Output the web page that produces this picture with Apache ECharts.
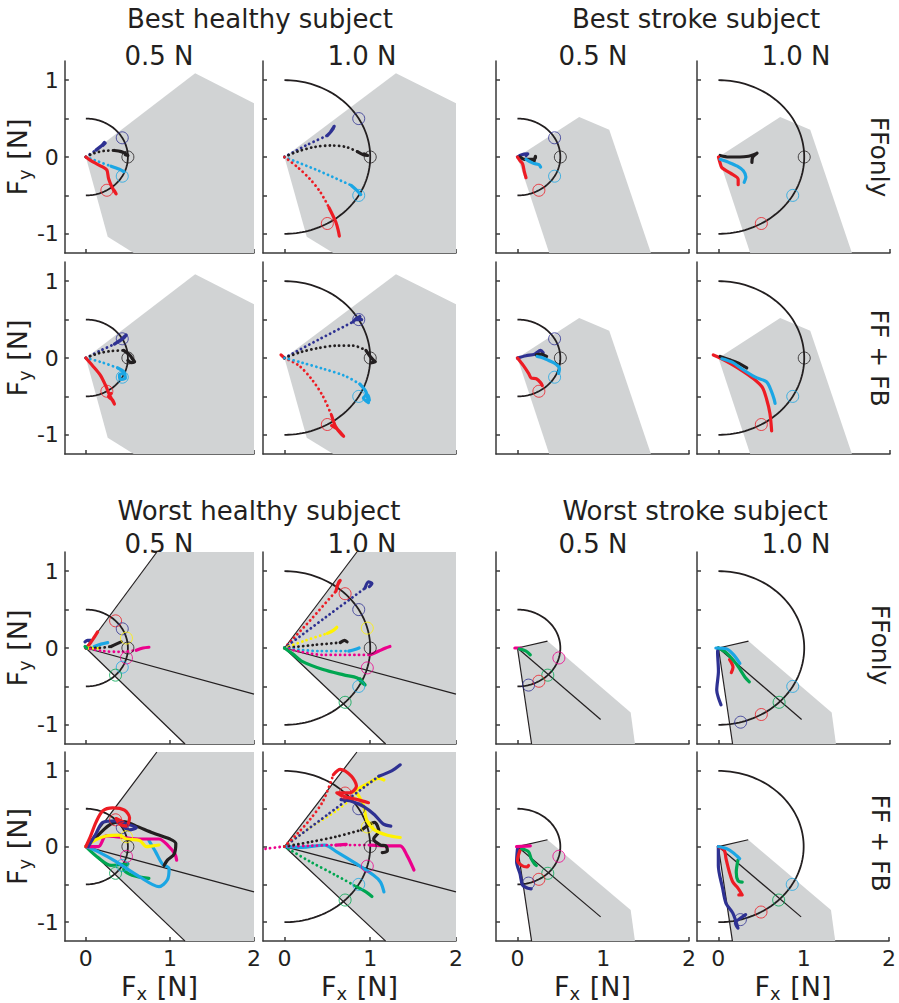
<!DOCTYPE html>
<html>
<head>
<meta charset="utf-8">
<script src="https://cdn.jsdelivr.net/npm/echarts@6/dist/echarts.min.js"></script>
<style>
  html, body { margin: 0; padding: 0; background: #fff; }
  #chart { width: 899px; height: 1003px; }
</style>
</head>
<body>
<div id="chart"></div>
<script>
// ---------- axes ----------
const xTicks = [0, 1, 2];
const yTicks = [-1, -0.5, 0, 0.5, 1];
const yTickLabels = [-1, 0, 1];

// ---------- titles ----------
const groupTitles = ['Best healthy subject', 'Best stroke subject', 'Worst healthy subject', 'Worst stroke subject'];
const forceLabels = ['0.5 N', '1.0 N'];
const conditionLabels = ['FFonly', 'FF + FB'];

// ---------- feasible force regions (polygon vertices, N) ----------
const regionBestHealthy = [[0, 0], [1.3, 1.09], [2, 0.7], [2, -1.25], [0.57, -1.25], [0.26, -1.04]];
const regionBestStroke = [[0, 0], [0.72, 0.52], [1.07, 0.355], [1.556, -1.25], [0.37, -1.25]];
const regionWorstHealthy = [[0, 0], [0.845, 1.25], [2, 1.25], [2, -1.25], [1.18, -1.25]];
const regionWorstStroke = [[0, 0], [0.35, 0.09], [1.32, -0.84], [1.37, -1.25], [0.165, -1.25]];
// boundary / axis lines drawn from the origin
const edgesWorstHealthy = [[0.845, 1.25], [1.18, -1.25], [2, -0.6]];
const edgesWorstStroke = [[0.35, 0.09], [0.165, -1.25], [0.97, -0.93]];

// ---------- targets: [colour, direction in degrees] ----------
const targetsBestHealthy = [['blue', 30], ['black', 0], ['cyan', -30], ['red', -60]];
const targetsBestStroke05 = [['blue', 30], ['black', 0], ['cyan', -30], ['red', -60]];
const targetsBestStroke10 = [['black', 0], ['cyan', -30], ['red', -60]];
const targetsWorstHealthy = [['red', 45], ['blue', 30], ['yellow', 15], ['black', 0], ['magenta', -15], ['cyan', -30], ['green', -45]];
const targetsWorstStroke05 = [['magenta', -15], ['green', -45], ['red', -60], ['blue', -75]];
const targetsWorstStroke10 = [['cyan', -30], ['green', -45], ['red', -60], ['blue', -75]];

// ---------- force trajectories: [colour, fast (dotted) samples, slow (solid) samples] ----------
const pathsBestHealthyFF05 = [
  ['blue', [[0, 0], [0.12, 0.09]], [[0.12, 0.09], [0.19, 0.15], [0.22, 0.19], [0.2, 0.15], [0.23, 0.18]]],
  ['black', [[0, 0], [0.1, 0.05], [0.22, 0.08], [0.34, 0.085]], [[0.34, 0.085], [0.42, 0.07], [0.48, 0.04], [0.5, 0.02], [0.47, 0.03]]],
  ['cyan', [[0, 0], [0.15, -0.06], [0.3, -0.12]], [[0.3, -0.12], [0.4, -0.16], [0.45, -0.19]]],
  ['red', [], [[0, 0], [0.085, -0.065], [0.2, -0.13], [0.25, -0.17], [0.27, -0.28], [0.31, -0.39], [0.36, -0.48], [0.34, -0.44]]]
];
const pathsBestHealthyFF10 = [
  ['blue', [[0, 0], [0.25, 0.15], [0.5, 0.28]], [[0.5, 0.28], [0.55, 0.34], [0.58, 0.4], [0.54, 0.33], [0.57, 0.37]]],
  ['black', [[0, 0], [0.15, 0.07], [0.35, 0.13], [0.55, 0.15], [0.72, 0.13], [0.85, 0.07]], [[0.85, 0.07], [0.92, 0.03], [0.97, 0.02], [0.93, 0.04]]],
  ['cyan', [[0, 0], [0.4, -0.18], [0.78, -0.37]], [[0.78, -0.37], [0.85, -0.44], [0.89, -0.49]]],
  ['red', [[0, 0], [0.15, -0.13], [0.3, -0.29], [0.42, -0.46], [0.52, -0.66]], [[0.52, -0.66], [0.6, -0.85], [0.63, -0.97], [0.64, -1.03]]]
];
const pathsBestHealthyFB05 = [
  ['blue', [[0, 0], [0.18, 0.1], [0.34, 0.18]], [[0.34, 0.18], [0.42, 0.24], [0.47, 0.29], [0.4, 0.22], [0.45, 0.26], [0.48, 0.3]]],
  ['black', [[0, 0], [0.15, 0.06], [0.3, 0.09], [0.45, 0.1]], [[0.45, 0.1], [0.52, 0.04], [0.56, -0.02], [0.58, -0.05], [0.54, -0.06], [0.5, -0.03]]],
  ['cyan', [[0, 0], [0.2, -0.06], [0.38, -0.13]], [[0.38, -0.13], [0.45, -0.18], [0.47, -0.26], [0.41, -0.28], [0.4, -0.22], [0.45, -0.2]]],
  ['red', [], [[0, 0], [0.08, -0.1], [0.17, -0.22], [0.24, -0.37], [0.28, -0.48], [0.3, -0.52], [0.34, -0.6], [0.32, -0.55], [0.27, -0.5], [0.3, -0.46]]]
];
const pathsBestHealthyFB10 = [
  ['red', [[0, 0], [0.17, -0.1], [0.32, -0.28], [0.45, -0.5], [0.55, -0.75]], [[0.55, -0.75], [0.6, -0.9], [0.67, -1.0], [0.69, -1.02], [0.62, -0.93], [0.55, -0.88], [0.6, -0.9]]],
  ['red', [], [[-0.04, 0.04], [0, 0]]],
  ['blue', [[0, 0], [0.4, 0.24], [0.8, 0.47]], [[0.8, 0.47], [0.86, 0.53], [0.9, 0.5], [0.84, 0.5], [0.88, 0.54]]],
  ['black', [[0, 0], [0.2, 0.08], [0.4, 0.13], [0.6, 0.16], [0.8, 0.16], [0.95, 0.1]], [[0.95, 0.1], [1.0, 0.02], [1.04, -0.03], [1.06, -0.05], [1.02, -0.06]]],
  ['cyan', [[0, 0], [0.2, -0.06], [0.45, -0.14], [0.7, -0.23], [0.88, -0.34]], [[0.88, -0.34], [0.95, -0.44], [0.98, -0.58], [0.92, -0.52], [0.97, -0.48], [0.99, -0.55]]]
];
const pathsBestStrokeFF05 = [
  ['blue', [], [[0, 0], [0.05, 0.03], [0.12, 0.04], [0.1, 0.02]]],
  ['black', [], [[0.03, 0], [0.08, -0.03], [0.18, -0.03], [0.21, -0.01], [0.21, 0.01], [0.2, -0.03], [0.19, -0.07]]],
  ['cyan', [], [[0.1, -0.03], [0.18, -0.08], [0.25, -0.1], [0.27, -0.13]]],
  ['red', [], [[0, 0], [0.03, -0.05], [0.06, -0.09], [0.08, -0.19], [0.1, -0.27]]]
];
const pathsBestStrokeFF10 = [
  ['black', [], [[0.02, 0.02], [0.12, 0.0], [0.25, 0.0], [0.35, 0.01], [0.41, 0.03], [0.45, 0.05], [0.4, 0.0], [0.39, -0.07]]],
  ['red', [], [[0, 0], [0.02, -0.08], [0.04, -0.14], [0.14, -0.21], [0.23, -0.29], [0.23, -0.36]]],
  ['cyan', [], [[0.02, -0.03], [0.12, -0.07], [0.22, -0.12], [0.29, -0.18], [0.32, -0.26], [0.3, -0.33]]]
];
const pathsBestStrokeFB05 = [
  ['blue', [], [[0, 0], [0.1, 0.03], [0.2, 0.05], [0.27, 0.1], [0.3, 0.07]]],
  ['black', [], [[0.22, 0.04], [0.28, 0.05], [0.32, 0.03], [0.34, 0.02]]],
  ['cyan', [], [[0.23, 0.02], [0.3, 0.0], [0.36, -0.03], [0.45, -0.08], [0.49, -0.14], [0.48, -0.2]]],
  ['red', [], [[0, 0], [0.07, -0.1], [0.13, -0.2], [0.16, -0.26], [0.22, -0.27], [0.27, -0.32], [0.29, -0.36]]]
];
const pathsBestStrokeFB10 = [
  ['red', [], [[-0.06, 0.04], [0.02, 0], [0.12, -0.06], [0.27, -0.16], [0.41, -0.27], [0.51, -0.38], [0.56, -0.53], [0.6, -0.72], [0.62, -0.95]]],
  ['black', [], [[0.02, 0.02], [0.12, -0.02], [0.22, -0.06], [0.33, -0.13]]],
  ['cyan', [], [[0.04, -0.01], [0.17, -0.06], [0.27, -0.14], [0.43, -0.25], [0.56, -0.31], [0.62, -0.44], [0.65, -0.54], [0.66, -0.59]]]
];
const pathsWorstHealthyFF05 = [
  ['blue', [], [[-0.01, 0.08], [0.02, 0.1], [0.06, 0.1], [0.05, 0.07]]],
  ['red', [], [[0, 0], [0.05, 0.06], [0.1, 0.14], [0.14, 0.21]]],
  ['yellow', [], [[0.02, 0], [0.08, 0.0], [0.16, 0.0]]],
  ['cyan', [], [[0.1, 0.02], [0.18, 0.05], [0.26, 0.07]]],
  ['black', [[0, 0], [0.15, 0.0], [0.3, 0.02]], [[0.3, 0.02], [0.36, 0.05], [0.42, 0.08]]],
  ['magenta', [[0, 0], [0.2, -0.04], [0.4, -0.05], [0.6, -0.03]], [[0.6, -0.03], [0.68, 0.0], [0.75, 0.01]]],
  ['green', [], [[-0.01, 0.02], [0.01, 0.0]]]
];
const pathsWorstHealthyFF10 = [
  ['red', [[0, 0], [0.3, 0.36], [0.6, 0.74]], [[0.6, 0.74], [0.63, 0.85], [0.65, 0.88], [0.61, 0.8]]],
  ['blue', [[0, 0], [0.48, 0.4], [0.94, 0.78]], [[0.94, 0.78], [0.98, 0.86], [1.02, 0.84], [0.99, 0.8]]],
  ['yellow', [[0, 0], [0.25, 0.1], [0.5, 0.19]], [[0.5, 0.19], [0.57, 0.23], [0.61, 0.27]]],
  ['black', [[0, 0], [0.35, 0.04], [0.65, 0.07]], [[0.65, 0.07], [0.7, 0.1], [0.73, 0.08]]],
  ['cyan', [[0, 0], [0.4, -0.04], [0.75, -0.04]], [[0.75, -0.04], [0.82, -0.02], [0.87, 0.0]]],
  ['magenta', [[0, 0], [0.45, -0.09], [1.0, -0.09]], [[1.0, -0.09], [1.1, -0.04], [1.18, 0.0], [1.23, 0.02]]],
  ['green', [], [[0, 0], [0.1, -0.08], [0.2, -0.17], [0.45, -0.28], [0.69, -0.35], [0.85, -0.39], [0.9, -0.45], [0.94, -0.48], [0.88, -0.4]]]
];
const pathsWorstHealthyFB05 = [
  ['green', [], [[0, 0], [0.15, -0.15], [0.3, -0.25], [0.4, -0.24], [0.5, -0.23], [0.45, -0.3], [0.55, -0.38], [0.75, -0.42]]],
  ['cyan', [], [[0, 0], [0.15, -0.07], [0.36, -0.2], [0.64, -0.4], [0.87, -0.53], [0.97, -0.44], [0.99, -0.29], [0.91, -0.23], [0.83, -0.07], [0.75, 0.08]]],
  ['magenta', [], [[0, 0], [0.15, 0.0], [0.24, 0.14], [0.44, 0.12], [0.63, 0.1], [0.87, 0.1], [0.98, 0.01], [1.06, -0.1], [1.08, -0.18]]],
  ['black', [], [[0.12, 0.12], [0.3, 0.3], [0.45, 0.33], [0.6, 0.27], [0.8, 0.18], [1.0, 0.1], [1.07, 0.04], [1.05, -0.1], [0.97, -0.18], [0.93, -0.25]]],
  ['yellow', [], [[0, 0], [0.1, 0.08], [0.24, 0.14], [0.4, 0.15], [0.48, 0.1], [0.64, 0.08], [0.72, 0.0], [0.8, 0.01], [0.87, 0.02]]],
  ['blue', [], [[0.03, 0], [0.12, 0.17], [0.2, 0.32], [0.36, 0.34], [0.48, 0.3], [0.6, 0.25], [0.52, 0.22], [0.45, 0.26]]],
  ['red', [], [[0, 0], [0.05, 0.12], [0.12, 0.32], [0.2, 0.47], [0.32, 0.51], [0.46, 0.48], [0.52, 0.38], [0.48, 0.27], [0.4, 0.3], [0.36, 0.37], [0.44, 0.33]]]
];
const pathsWorstHealthyFB10 = [
  ['green', [[0, 0], [0.3, -0.2], [0.6, -0.38], [0.84, -0.53]], [[0.84, -0.53], [0.95, -0.6], [1.02, -0.66]]],
  ['cyan', [], [[0, 0], [0.2, -0.01], [0.47, 0.02], [0.61, -0.07], [0.84, -0.23], [1.04, -0.38], [1.12, -0.47], [1.16, -0.6]]],
  ['magenta', [[-0.22, -0.03], [0, 0], [0.3, 0.01], [0.6, 0.02], [1.0, 0.02]], [[1.0, 0.02], [1.2, 0.01], [1.35, 0.01], [1.43, -0.12], [1.51, -0.31]]],
  ['magenta', [], [[0.6, 0.02], [0.72, 0.03]]],
  ['black', [[0, 0], [0.3, 0.06], [0.6, 0.13], [0.9, 0.22]], [[0.9, 0.22], [1.05, 0.32], [1.1, 0.2], [1.04, 0.1], [1.12, 0.02], [1.18, 0.01], [1.2, -0.06], [1.14, -0.08]]],
  ['yellow', [[0, 0], [0.3, 0.25], [0.6, 0.47], [0.85, 0.7]], [[0.85, 0.7], [0.92, 0.55], [0.96, 0.35], [1.05, 0.22], [1.2, 0.15], [1.35, 0.12]]],
  ['yellow', [], [[0.8, 0.72], [0.95, 0.82], [1.1, 0.9], [1.16, 0.88]]],
  ['blue', [[0, 0], [0.5, 0.42], [1.1, 0.93]], [[1.1, 0.93], [1.25, 1.0], [1.35, 1.08]]],
  ['blue', [], [[0.66, 0.62], [0.78, 0.6], [0.92, 0.53], [1.05, 0.42], [1.15, 0.3], [1.24, 0.27]]],
  ['red', [[0, 0], [0.15, 0.17], [0.3, 0.36], [0.45, 0.6], [0.57, 0.95]], [[0.57, 0.95], [0.65, 1.02], [0.78, 0.93], [0.84, 0.8], [0.76, 0.71], [0.61, 0.71], [0.7, 0.66], [0.85, 0.62], [0.98, 0.58]]]
];
const pathsWorstStrokeFF05 = [
  ['magenta', [], [[-0.03, 0.0], [0.04, 0.0]]],
  ['green', [], [[0.02, -0.01], [0.1, -0.04], [0.15, -0.09]]]
];
const pathsWorstStrokeFF10 = [
  ['blue', [], [[0, 0], [-0.01, -0.05], [0.0, -0.3], [-0.02, -0.55], [0.0, -0.65], [0.03, -0.74]]],
  ['red', [], [[0.13, -0.15], [0.17, -0.25], [0.15, -0.32]]],
  ['green', [], [[0, 0], [0.09, -0.06], [0.21, -0.21], [0.31, -0.38], [0.36, -0.44]]],
  ['cyan', [], [[-0.03, 0], [0.09, -0.01], [0.17, -0.08], [0.25, -0.2]]]
];
const pathsWorstStrokeFB05 = [
  ['blue', [], [[0, -0.03], [-0.01, -0.2], [0.03, -0.36], [0.06, -0.51], [0.12, -0.55], [0.16, -0.56]]],
  ['red', [], [[0.03, -0.05], [0.0, -0.18], [0.05, -0.25], [0.11, -0.27], [0.13, -0.25]]],
  ['green', [], [[0.05, -0.03], [0.13, -0.07], [0.16, -0.16], [0.2, -0.23], [0.22, -0.25]]],
  ['magenta', [], [[-0.01, 0], [0.15, 0.01]]]
];
const pathsWorstStrokeFB10 = [
  ['blue', [], [[0, 0], [0.0, -0.25], [0.05, -0.55], [0.09, -0.75], [0.17, -0.88], [0.23, -1.08], [0.2, -1.01], [0.28, -0.93], [0.32, -0.9]]],
  ['red', [], [[0, 0], [0.07, -0.05], [0.09, -0.16], [0.13, -0.34], [0.17, -0.47], [0.23, -0.55], [0.28, -0.64], [0.24, -0.64]]],
  ['green', [], [[0.23, -0.18], [0.21, -0.34], [0.23, -0.45], [0.28, -0.47]]],
  ['cyan', [], [[0, 0], [0.1, -0.03], [0.17, -0.08], [0.25, -0.16]]]
];

// ---------- panel arrangement ----------
const panels = [
  { row: 0, col: 0, force: 0.5, region: regionBestHealthy, edges: [], targets: targetsBestHealthy, paths: pathsBestHealthyFF05 },
  { row: 0, col: 1, force: 1.0, region: regionBestHealthy, edges: [], targets: targetsBestHealthy, paths: pathsBestHealthyFF10 },
  { row: 1, col: 0, force: 0.5, region: regionBestHealthy, edges: [], targets: targetsBestHealthy, paths: pathsBestHealthyFB05 },
  { row: 1, col: 1, force: 1.0, region: regionBestHealthy, edges: [], targets: targetsBestHealthy, paths: pathsBestHealthyFB10 },
  { row: 0, col: 2, force: 0.5, region: regionBestStroke, edges: [], targets: targetsBestStroke05, paths: pathsBestStrokeFF05 },
  { row: 0, col: 3, force: 1.0, region: regionBestStroke, edges: [], targets: targetsBestStroke10, paths: pathsBestStrokeFF10 },
  { row: 1, col: 2, force: 0.5, region: regionBestStroke, edges: [], targets: targetsBestStroke05, paths: pathsBestStrokeFB05 },
  { row: 1, col: 3, force: 1.0, region: regionBestStroke, edges: [], targets: targetsBestStroke10, paths: pathsBestStrokeFB10 },
  { row: 2, col: 0, force: 0.5, region: regionWorstHealthy, edges: edgesWorstHealthy, targets: targetsWorstHealthy, paths: pathsWorstHealthyFF05 },
  { row: 2, col: 1, force: 1.0, region: regionWorstHealthy, edges: edgesWorstHealthy, targets: targetsWorstHealthy, paths: pathsWorstHealthyFF10 },
  { row: 3, col: 0, force: 0.5, region: regionWorstHealthy, edges: edgesWorstHealthy, targets: targetsWorstHealthy, paths: pathsWorstHealthyFB05 },
  { row: 3, col: 1, force: 1.0, region: regionWorstHealthy, edges: edgesWorstHealthy, targets: targetsWorstHealthy, paths: pathsWorstHealthyFB10 },
  { row: 2, col: 2, force: 0.5, region: regionWorstStroke, edges: edgesWorstStroke, targets: targetsWorstStroke05, paths: pathsWorstStrokeFF05 },
  { row: 2, col: 3, force: 1.0, region: regionWorstStroke, edges: edgesWorstStroke, targets: targetsWorstStroke10, paths: pathsWorstStrokeFF10 },
  { row: 3, col: 2, force: 0.5, region: regionWorstStroke, edges: edgesWorstStroke, targets: targetsWorstStroke05, paths: pathsWorstStrokeFB05 },
  { row: 3, col: 3, force: 1.0, region: regionWorstStroke, edges: edgesWorstStroke, targets: targetsWorstStroke10, paths: pathsWorstStrokeFB10 }
];

// ---------- layout & style ----------
const colLeft = [61, 263, 496, 697];
const rowTop = [61, 262, 552, 752];
const panelW = 193, panelH = 192;
const FONT = '"DejaVu Sans", Verdana, sans-serif';
const INK = '#231f20';
const AXIS_INK = '#3a3a3a';
const REGION_FILL = '#d1d3d4';
const palette = {
  blue: '#2e3192', black: '#231f20', cyan: '#1ba6e4', red: '#ed1c24',
  yellow: '#fff200', magenta: '#ec008c', green: '#00a651'
};

const nameRich = {
  f: { fontSize: 27, fontFamily: FONT, color: INK, lineHeight: 26 },
  s: { fontSize: 18, fontFamily: FONT, color: INK, lineHeight: 18, padding: [14, 1, 0, 0] }
};

const grid = [], xAxis = [], yAxis = [], series = [];

panels.forEach((p, i) => {
  grid.push({ left: colLeft[p.col], top: rowTop[p.row], width: panelW, height: panelH, containLabel: false });
  const lineStyle = { color: AXIS_INK, width: 1.5 };
  xAxis.push({
    type: 'value', gridIndex: i, min: -0.25, max: 2,
    axisLine: { show: true, onZero: false, lineStyle },
    axisTick: { show: true, inside: true, length: 4, customValues: xTicks, lineStyle },
    axisLabel: { show: p.row === 3, customValues: xTicks, fontSize: 22, lineHeight: 18, fontFamily: FONT, color: INK, margin: 8 },
    splitLine: { show: false },
    name: p.row === 3 ? '{f|F}{s|x}{f| [N]}' : '',
    nameLocation: 'middle', nameGap: 27,
    nameTextStyle: { rich: nameRich }
  });
  yAxis.push({
    type: 'value', gridIndex: i, min: -1.25, max: 1.25,
    axisLine: { show: true, onZero: false, lineStyle },
    axisTick: { show: true, inside: true, length: 4, customValues: yTicks, lineStyle },
    axisLabel: { show: p.col === 0, customValues: yTickLabels, fontSize: 22, fontFamily: FONT, color: INK, margin: 6 },
    splitLine: { show: false },
    name: p.col === 0 ? '{f|F}{s|y}{f| [N]}' : '',
    nameLocation: 'middle', nameGap: 19, nameRotate: 90,
    nameTextStyle: { rich: nameRich }
  });

  // feasible region
  series.push({
    type: 'custom', xAxisIndex: i, yAxisIndex: i, silent: true, z: 1, clip: true,
    data: p.region,
    renderItem: (params, api) => {
      if (params.dataIndex !== 0) return null;
      return {
        type: 'polygon',
        shape: { points: p.region.map(v => api.coord(v)) },
        style: { fill: REGION_FILL, stroke: null }
      };
    }
  });

  // boundary lines from the origin
  p.edges.forEach(end => {
    series.push({
      type: 'line', xAxisIndex: i, yAxisIndex: i, silent: true, z: 2,
      data: [[0, 0], end], showSymbol: false, symbol: 'none',
      lineStyle: { color: INK, width: 1.2 }
    });
  });

  // target circle of radius equal to the force level
  series.push({
    type: 'custom', xAxisIndex: i, yAxisIndex: i, silent: true, z: 3,
    data: [[p.force, 0]],
    renderItem: (params, api) => {
      const r = api.value(0);
      const pts = [];
      for (let a = -90; a <= 90; a += 2) {
        const t = a * Math.PI / 180;
        pts.push(api.coord([r * Math.cos(t), r * Math.sin(t)]));
      }
      return { type: 'polyline', shape: { points: pts }, style: { stroke: INK, lineWidth: 1.8, fill: null } };
    }
  });

  // trajectories
  p.paths.forEach(([c, fast, slow]) => {
    if (fast.length) {
      series.push({
        type: 'line', xAxisIndex: i, yAxisIndex: i, silent: true, z: 4,
        data: fast, showSymbol: false, symbol: 'none', smooth: 0.3,
        lineStyle: { color: palette[c], width: 2.8, type: [0.1, 4.6], cap: 'round' }
      });
    }
    if (slow.length) {
      series.push({
        type: 'line', xAxisIndex: i, yAxisIndex: i, silent: true, z: 4,
        data: slow, showSymbol: false, symbol: 'none', smooth: 0.3,
        lineStyle: { color: palette[c], width: 3.2, cap: 'round', join: 'round' }
      });
    }
  });

  // target markers
  series.push({
    type: 'scatter', xAxisIndex: i, yAxisIndex: i, silent: true, z: 5,
    symbol: 'circle', symbolSize: 12,
    data: p.targets.map(([c, deg]) => ({
      value: [p.force * Math.cos(deg * Math.PI / 180), p.force * Math.sin(deg * Math.PI / 180)],
      itemStyle: { color: 'rgba(0,0,0,0)', borderColor: palette[c], borderWidth: 1 }
    }))
  });
});

// ---------- floating text ----------
const text = (x, y, str, size, rot) => ({
  type: 'text', x, y, rotation: rot || 0, silent: true,
  style: { text: str, fontSize: size, fontFamily: FONT, fill: INK, align: 'center', verticalAlign: 'middle' }
});
const groupTitlePos = [[260, 19], [696, 19], [259, 511], [695, 511]];
const headerX = [159, 362, 593, 796];
const headerY = [56, 544];
const conditionPos = [[879, 157], [879, 358], [880, 645], [880, 843]];

const graphics = [];
groupTitles.forEach((t, k) => graphics.push(text(groupTitlePos[k][0], groupTitlePos[k][1], t, 26)));
headerY.forEach(y => headerX.forEach((x, k) => graphics.push(text(x, y, forceLabels[k % 2], 26))));
conditionPos.forEach(([x, y], k) => graphics.push(text(x, y, conditionLabels[k % 2], 25, -Math.PI / 2)));

const chart = echarts.init(document.getElementById('chart'), null, { renderer: 'svg' });
chart.setOption({
  animation: false,
  backgroundColor: '#ffffff',
  grid, xAxis, yAxis, series,
  graphic: graphics
});
</script>
</body>
</html>
